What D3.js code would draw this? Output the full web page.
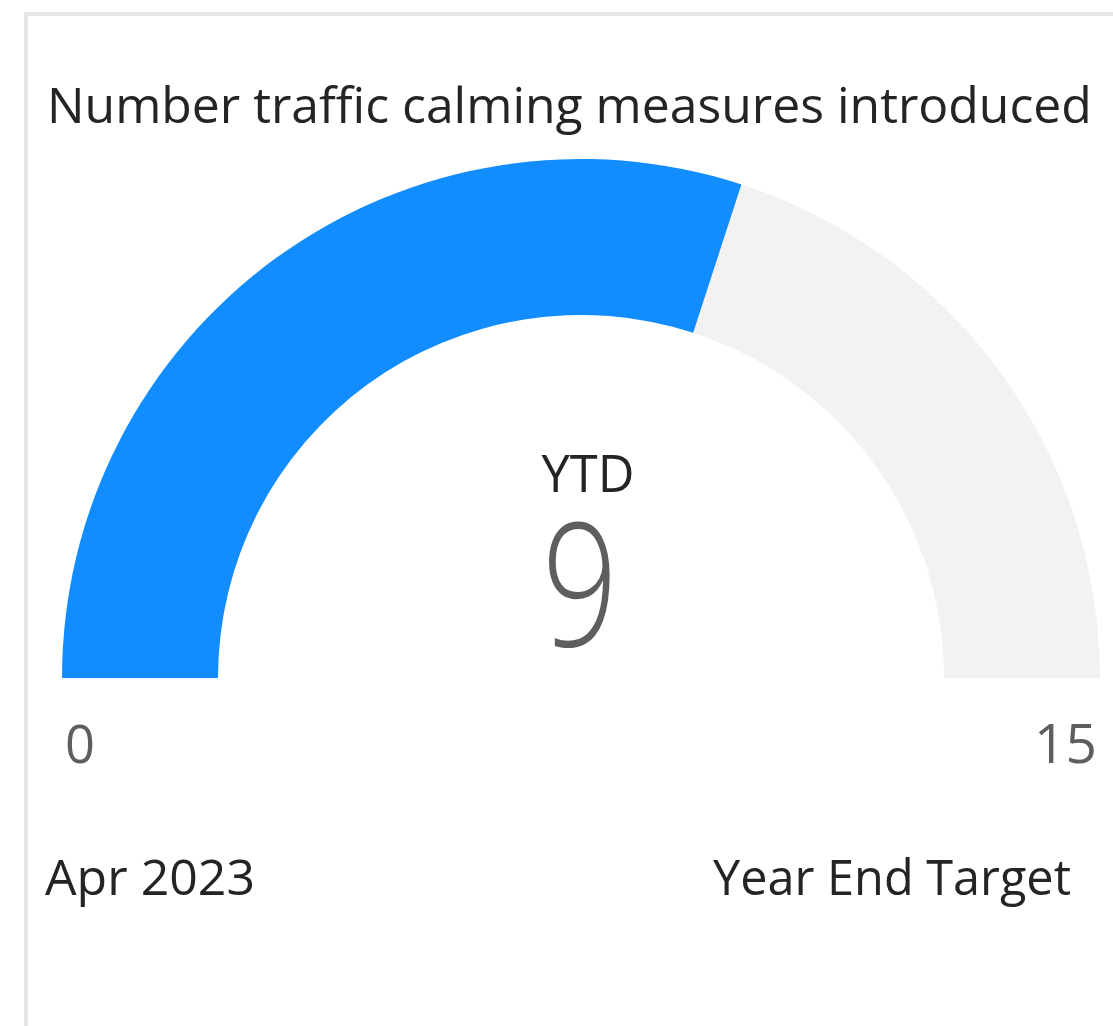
<!DOCTYPE html>
<html>
<head>
<meta charset="utf-8">
<script src="https://cdn.jsdelivr.net/npm/d3@7"></script>
<style>
  html, body { margin: 0; padding: 0; background: #fff; }
  svg text { font-family: "Segoe UI", "Open Sans", "Noto Sans", sans-serif; }
</style>
</head>
<body>
<div class="chart"></div>
<script>
// gauge card: YTD value against year end target

var title = "Number traffic calming measures introduced";
var valueLabel = "YTD";
var currentValue = 9;
var minValue = 0;
var maxValue = 15;
var minLabel = "Apr 2023";
var maxLabel = "Year End Target";

var svgWidth = 1113;
var svgHeight = 1026;

var svg = d3.select(".chart")
    .append("svg")
    .attr("width", svgWidth)
    .attr("height", svgHeight);

// card border (runs off right / bottom edge)
svg.append("rect")
    .attr("x", 26)
    .attr("y", 14)
    .attr("width", 1200)
    .attr("height", 1100)
    .attr("fill", "#fff")
    .attr("stroke", "#e6e6e6")
    .attr("stroke-width", 4);

var cx = 581, cy = 678;
var outerR = 519, innerR = 363;

var angle = d3.scaleLinear()
    .domain([minValue, maxValue])
    .range([-Math.PI / 2, Math.PI / 2]);

var arc = d3.arc()
    .innerRadius(innerR)
    .outerRadius(outerR);

var gauge = svg.append("g")
    .attr("transform", `translate(${cx}, ${cy})`);

// background track
gauge.append("path")
    .attr("d", arc({startAngle: angle(minValue), endAngle: angle(maxValue)}))
    .attr("fill", "#f3f2f1");

// value arc
gauge.append("path")
    .attr("d", arc({startAngle: angle(minValue), endAngle: angle(currentValue)}))
    .attr("fill", "#118dff");

// helper: put text then squeeze/stretch font size to the width seen in the picture
function addText(str, x, y, size, width, anchor, color, weight) {
    var t = svg.append("text")
        .attr("x", x)
        .attr("y", y)
        .attr("text-anchor", anchor)
        .attr("fill", color)
        .attr("font-weight", weight || 400)
        .style("font-size", size + "px")
        .text(str);
    var w = t.node().getComputedTextLength();
    if (width && w > 0) {
        t.style("font-size", (size * width / w) + "px");
    }
    return t;
}

addText(title, 47, 123, 52, 1045, "start", "#252423");
addText(valueLabel, 588, 492, 50, 93, "middle", "#252423");

// big value: sized by height, glyph narrowed like the light face in the picture
svg.append("text")
    .attr("x", 580)
    .attr("y", 646)
    .attr("text-anchor", "middle")
    .attr("fill", "#605e5c")
    .attr("font-weight", 300)
    .attr("textLength", 76)
    .attr("lengthAdjust", "spacingAndGlyphs")
    .style("font-size", "172px")
    .text(String(currentValue));

addText(String(minValue), 65, 763, 62, 30, "start", "#605e5c");
addText(String(maxValue), 1097, 763, 62, 63, "end", "#605e5c");
addText(minLabel, 45, 895, 50, 210, "start", "#252423");
addText(maxLabel, 1071, 895, 50, 358, "end", "#252423");
</script>
</body>
</html>
